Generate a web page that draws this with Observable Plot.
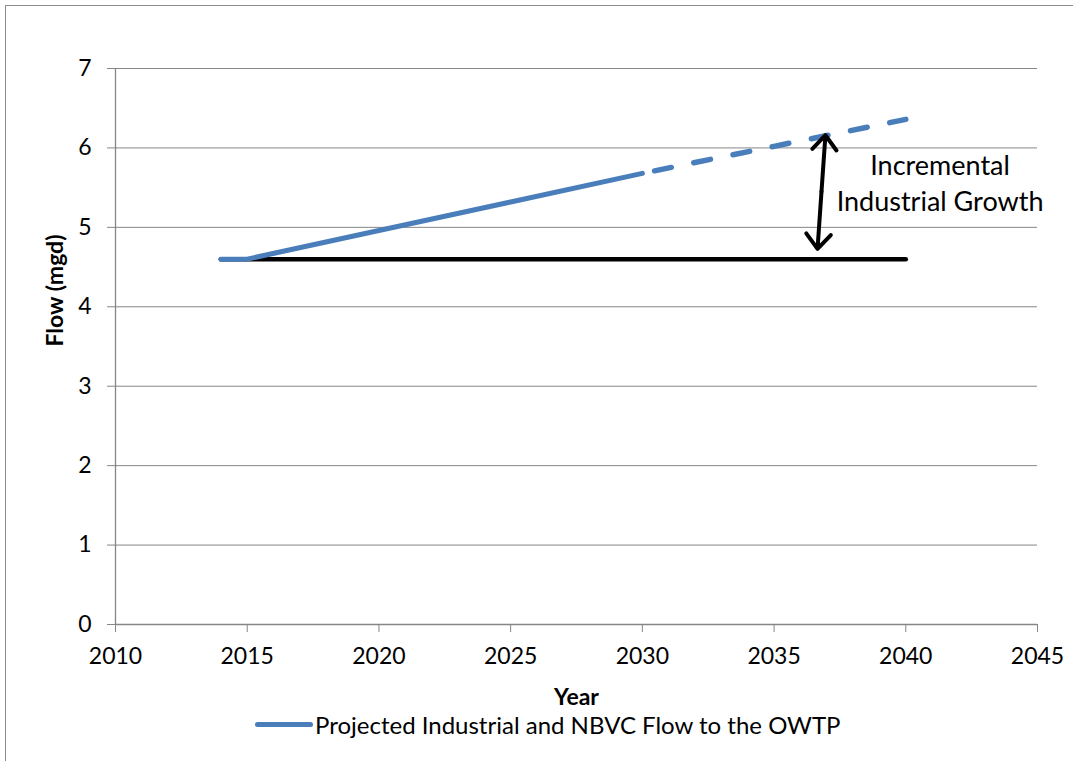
<!DOCTYPE html>
<html>
<head>
<meta charset="utf-8">
<script src="https://cdn.jsdelivr.net/npm/d3@7"></script>
<script src="https://cdn.jsdelivr.net/npm/@observablehq/plot@0.6"></script>
<style>
  html, body { margin: 0; padding: 0; background: #fff; }
  body { width: 1073px; height: 761px; position: relative; overflow: hidden; font-family: Lato, "Open Sans", sans-serif; }
  #frame { position: absolute; left: 5px; top: 5px; width: 1200px; height: 900px;
           border-left: 1px solid #8c8c8c; border-top: 1px solid #8c8c8c; pointer-events: none; }
  #chart svg { display: block; }
  #legend { display: flex; align-items: center; padding-left: 255px; height: 20px; font-size: 24px; color: #000; }
  #legend .swatch { width: 58px; height: 5px; border-radius: 3px; background: #4a7ebb; margin-right: 2px; }
</style>
</head>
<body>
<div id="frame"></div>
<div id="chart"></div>
<div id="legend"><span class="swatch"></span><span id="legend-label"></span></div>
<script>
// Projected flow to the treatment plant (mgd)
const projectedYears = [2014, 2015, 2020, 2025, 2030];
const projectedFlow = [4.6, 4.6, 4.96, 5.32, 5.68];
const extendedYears = [2030, 2035, 2040];
const extendedFlow = [5.68, 6.02, 6.36];

// Current (baseline) flow held constant
const baselineYears = [2014, 2040];
const baselineFlow = [4.6, 4.6];

// Double-headed arrow marking the growth gap
const gapMidYear = [2036.8, 2036.8];
const gapMidFlow = [5.45, 5.45];
const gapTipYear = [2036.95, 2036.65];
const gapTipFlow = [6.16, 4.73];

const noteYear = [2041.3];
const noteFlow = [5.58];
const noteText = ["Incremental\nIndustrial Growth"];

const xTicks = [2010, 2015, 2020, 2025, 2030, 2035, 2040, 2045];
const yTicks = [0, 1, 2, 3, 4, 5, 6, 7];

const seriesName = "Projected Industrial and NBVC Flow to the OWTP";

const rows = (xs, ys) => xs.map((x, i) => ({x, y: ys[i]}));
const projected = rows(projectedYears, projectedFlow);
const extended = rows(extendedYears, extendedFlow);
const baseline = rows(baselineYears, baselineFlow);
const gap = gapTipYear.map((x, i) => ({x1: gapMidYear[i], y1: gapMidFlow[i], x2: x, y2: gapTipFlow[i]}));
const note = noteYear.map((x, i) => ({x, y: noteFlow[i], text: noteText[i]}));

const axisGray = "#868686";
const blue = "#4a7ebb";

const chart = Plot.plot({
  width: 1073,
  height: 714,
  marginLeft: 115,
  marginRight: 36,
  marginTop: 68,
  marginBottom: 90,
  style: {fontFamily: "Lato, 'Open Sans', sans-serif", fontSize: "23px", color: "#000", background: "transparent"},
  x: {domain: [2010, 2045]},
  y: {domain: [0, 7]},
  marks: [
    Plot.gridY(yTicks.slice(1), {stroke: axisGray, strokeOpacity: 1, strokeWidth: 1}),
    Plot.ruleX([2010], {stroke: axisGray, strokeWidth: 1.3}),
    Plot.ruleY([0], {stroke: axisGray, strokeWidth: 1.3}),
    Plot.axisX({ticks: xTicks, tickFormat: d => String(d), tickSize: 8, tickPadding: 15,
      stroke: axisGray, fill: "#000", label: null, fontSize: 23}),
    Plot.axisY({ticks: yTicks, tickFormat: d => String(d), tickSize: 8, tickPadding: 16,
      stroke: axisGray, fill: "#000", label: null, fontSize: 23}),
    Plot.text(["Year"], {text: d => d, frameAnchor: "bottom", dy: 80, fontWeight: "bold", fontSize: 23}),
    Plot.text(["Flow (mgd)"], {text: d => d, frameAnchor: "left", dx: -60, rotate: -90, fontWeight: "bold", fontSize: 23}),
    Plot.line(baseline, {x: "x", y: "y", stroke: "#000", strokeWidth: 4.5, strokeLinecap: "round"}),
    Plot.line(projected, {x: "x", y: "y", stroke: blue, strokeWidth: 5, strokeLinecap: "round", strokeLinejoin: "round"}),
    // dash phase chosen so the dashed projection finishes on a dash at its last point
    Plot.line(extended, {x: "x", y: "y", stroke: blue, strokeWidth: 5.5, strokeLinecap: "round",
      strokeDasharray: "17,23", strokeDashoffset: 27.5}),
    Plot.arrow(gap, {x1: "x1", y1: "y1", x2: "x2", y2: "y2", stroke: "#000", strokeWidth: 4,
      headLength: 7.5, headAngle: 80, strokeLinecap: "round", strokeLinejoin: "round"}),
    Plot.text(note, {x: "x", y: "y", text: "text", fontSize: 27, lineHeight: 1.33, textAnchor: "middle"})
  ]
});

document.getElementById("chart").appendChild(chart);
document.getElementById("legend-label").textContent = seriesName;
</script>
</body>
</html>
